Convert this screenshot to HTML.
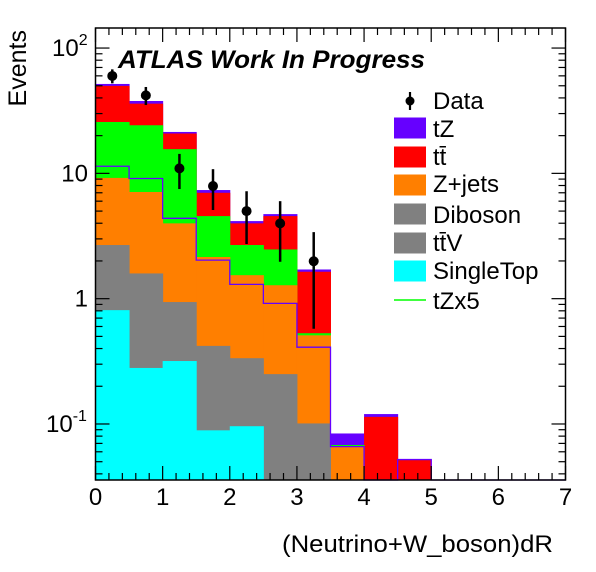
<!DOCTYPE html>
<html><head><meta charset="utf-8"><style>
html,body{margin:0;padding:0;background:#fff;}
svg{display:block;font-family:"Liberation Sans",sans-serif;}
</style></head><body>
<svg id="c" width="596" height="572"></svg>
<script>
const binEdges=[0,0.5,1,1.5,2,2.5,3,3.5,4,4.5,5,5.5,6,6.5,7];
const singleTop=[0.81,0.28,0.318,0.089,0.096,0,0,0,0,0,0,0,0,0];
const diboson=[2.68,1.59,0.94,0.42,0.335,0.25,0.101,0,0,0,0,0,0,0];
const zjets=[9.2,7.1,3.99,2.15,1.54,1.28,0.51,0.066,0,0,0,0,0,0];
const ttv=[25.7,24.2,15.6,4.56,2.68,2.47,0.53,0.068,0,0,0,0,0,0];
const ttbar=[49.9,36,20.8,7.0,3.99,4.56,1.64,0.068,0.114,0.052,0,0,0,0];
const tz=[51.7,37.8,21.4,7.36,4.16,4.73,1.71,0.084,0.12,0.052,0,0,0,0];
const tzx5=[11.4,9.1,4.38,2.03,1.30,0.917,0.41,0.066,0,0.052,0,0,0,0];
const dataVals=[59.9,41.9,10.96,7.92,5.0,3.99,1.99];
const dataUp=[67.6,48.9,14.3,10.8,7.2,6.0,3.4];
const dataLow=[52.3,35.1,7.5,5.1,2.73,1.97,0.575];
const xTicks=[0,1,2,3,4,5,6,7];

const NS="http://www.w3.org/2000/svg";
const svg=document.getElementById('c');
const X0=95.5,X1=565.5,YT=28,YB=480;
const xs=v=>X0+(v/7)*(X1-X0);
const LMIN=-1.447,LMAX=2.16;
const ys=v=>{if(v<=0)return YB;let l=Math.log10(v);l=Math.max(LMIN,Math.min(LMAX,l));return YB-(l-LMIN)/(LMAX-LMIN)*(YB-YT);};
function mk(t,a,p){const e=document.createElementNS(NS,t);for(const k in a)e.setAttribute(k,a[k]);(p||svg).appendChild(e);return e;}

const layers=[[tz,'#6600ff','tz'],[ttbar,'#ff0000','ttbar'],[ttv,'#00ff00','ttv'],[zjets,'#ff7f00','zjets'],[diboson,'#808080','diboson'],[singleTop,'#00ffff','singletop']];
const g=mk('g',{});


layers.forEach(([arr,col,nm])=>{
  for(let i=0;i<arr.length;i++){
    if(arr[i]<=0)continue;
    const y=ys(arr[i]);
    const r=mk('rect',{x:xs(binEdges[i]),y:y,width:xs(binEdges[i+1])-xs(binEdges[i])+0.5,height:YB-y,fill:col},g);
    
    
  }
});
let d='';
for(let i=0;i<tzx5.length;i++){
  const y=ys(tzx5[i]);
  d+=(i===0?'M':'L')+xs(binEdges[i])+','+y+'L'+xs(binEdges[i+1])+','+y;
}
const ln=mk('path',{d:d,fill:'none',stroke:'#6600ff','stroke-width':1.3});



for(let i=0;i<dataVals.length;i++){
  const cx=xs((binEdges[i]+binEdges[i+1])/2);
  const e=mk('line',{x1:cx,x2:cx,y1:ys(dataUp[i]),y2:ys(dataLow[i]),stroke:'#000','stroke-width':2.5});
  
  
  const c=mk('circle',{cx:cx,cy:ys(dataVals[i]),r:5,fill:'#000'});
  
  
}

const fr=mk('rect',{x:X0,y:YT,width:X1-X0,height:YB-YT,fill:'none',stroke:'#000','stroke-width':1.5});


for(let v=0;v<=7.001;v+=0.2){
  const maj=Math.abs(v-Math.round(v))<1e-6;const L=maj?14:7;const x=xs(v);
  mk('line',{x1:x,x2:x,y1:YB,y2:YB-L,stroke:'#000','stroke-width':1.2});
  mk('line',{x1:x,x2:x,y1:YT,y2:YT+L,stroke:'#000','stroke-width':1.2});
}
xTicks.forEach(v=>{
  const t=mk('text',{x:xs(v),y:505,'font-size':24,'text-anchor':'middle'});t.textContent=v;
  
  
});
for(let e=-2;e<=2;e++){for(let m=1;m<=9;m++){
  const v=m*Math.pow(10,e);const l=Math.log10(v);if(l<LMIN||l>LMAX)continue;
  const y=ys(v);const L=m===1?14:7;
  mk('line',{x1:X0,x2:X0+L,y1:y,y2:y,stroke:'#000','stroke-width':1.2});
  mk('line',{x1:X1,x2:X1-L,y1:y,y2:y,stroke:'#000','stroke-width':1.2});
}}
const yl=[['10','2',100,52],['10','',10,0],['1','',1,0],['10','-1',0.1,46]];
yl.forEach(([b,s,v,sx])=>{
  const t=mk('text',{x:88,y:ys(v)+8,'font-size':24,'text-anchor':'end'});
  
  
  t.textContent=b;
  if(s){t.setAttribute('text-anchor','start');t.setAttribute('x',sx);const sp=mk('tspan',{dy:-11,'font-size':16},t);sp.textContent=s;}
});
const yt=mk('text',{x:0,y:0,'font-size':25,'text-anchor':'end',transform:'translate(26,30) rotate(-90)'});
yt.textContent='Events';


const xt=mk('text',{x:282,y:552,'font-size':24,textLength:271,lengthAdjust:'spacingAndGlyphs'});
xt.textContent='(Neutrino+W_boson)dR';


const at=mk('text',{x:118,y:68,'font-size':25,'font-weight':'bold','font-style':'italic',textLength:307,lengthAdjust:'spacingAndGlyphs'});
at.textContent='ATLAS Work In Progress';



const leg=mk('g',{});


const entries=[['Data','data',101,109],['tZ','#6600ff',128,137],['tt̄','#ff0000',157,165],['Z+jets','#ff7f00',185,192],['Diboson','#808080',214,223],['tt̄V','#808080',243,251],['SingleTop','#00ffff',271,279],['tZx5','line',300,309]];
entries.forEach(([lab,col,y,by])=>{
  if(col==='data'){mk('circle',{cx:410,cy:y,r:4.5,fill:'#000'},leg);mk('line',{x1:410,x2:410,y1:y-9,y2:y+9,stroke:'#000','stroke-width':2.2},leg);}
  else if(col==='line'){mk('line',{x1:394,x2:426,y1:y,y2:y,stroke:'#00ff00','stroke-width':1.5},leg);}
  else mk('rect',{x:394,y:y-10.5,width:32,height:21,fill:col},leg);
  const t=mk('text',{x:433,y:by,'font-size':24},leg);t.textContent=lab;
  
  
});
</script>
</body></html>
